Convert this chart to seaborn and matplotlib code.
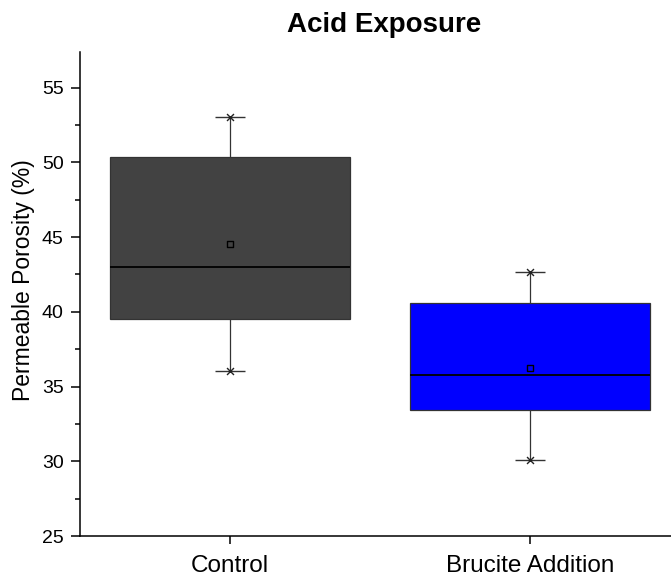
import numpy as np
import pandas as pd
import matplotlib
matplotlib.use("Agg")
import matplotlib.pyplot as plt
from matplotlib.ticker import MultipleLocator
import seaborn as sns

# Five-number summaries of permeable porosity (%) after acid exposure
groups = ["Control", "Brucite Addition"]
mins = [36.03, 30.11]
q1s = [39.51, 33.46]
medians = [43.02, 35.80]
q3s = [50.34, 40.56]
maxs = [53.02, 42.64]
means = [44.54, 36.23]
box_colors = ["#424242", "#0000FF"]
y_ticks = [25, 30, 35, 40, 45, 50, 55]

# Long table: each group's summary values, so the box spans q1..q3 and whiskers min..max
rows = []
for g, a, b, c, d, e in zip(groups, mins, q1s, medians, q3s, maxs):
    for v in (a, b, c, d, e):
        rows.append({"group": g, "value": v})
df = pd.DataFrame(rows)

sns.set_style("ticks")
plt.rcParams["font.family"] = ["Liberation Sans", "DejaVu Sans"]
plt.rcParams.update({
    "text.color": "black",
    "axes.labelcolor": "black",
    "xtick.color": "black",
    "ytick.color": "black",
    "axes.edgecolor": "black",
})

fig = plt.figure(figsize=(6.71, 5.83), dpi=100)
ax = fig.add_axes([0.1185, 0.0806, 0.8815, 0.8307])

sns.boxplot(
    data=df, x="group", y="value", hue="group", order=groups,
    palette=box_colors, saturation=1, width=0.8, whis=(0, 100),
    showcaps=False, showfliers=False, linecolor="#333333", linewidth=0.9,
    medianprops=dict(color="black", linewidth=1.3), legend=False, ax=ax,
)

pos = np.arange(len(groups))
# Whisker caps and end markers
for ends in (mins, maxs):
    sns.scatterplot(x=pos, y=ends, marker="_", s=21.6 ** 2, color="#333333",
                    linewidth=1.0, ax=ax, zorder=5)
    sns.scatterplot(x=pos, y=ends, marker="x", s=25, color="#222222",
                    linewidth=1.0, ax=ax, zorder=6)
# Mean markers
sns.scatterplot(x=pos, y=means, marker="s", s=18, facecolor="none",
                edgecolor="black", linewidth=1.0, ax=ax, zorder=6)

ax.set_xlim(-0.5017, 1.47)
ax.set_ylim(25, 57.4)
ax.set_yticks(y_ticks)
ax.yaxis.set_minor_locator(MultipleLocator(2.5))
ax.set_xticks(pos)
ax.set_xticklabels(groups)

ax.set_xlabel("")
ax.set_ylabel("Permeable Porosity (%)", fontsize=16.5, color="black")
ax.yaxis.set_label_coords(-0.075, 0.529)
ax.set_title("Acid Exposure", fontsize=20, fontweight="bold", pad=14, x=0.515,
             color="black")

for side in ("top", "right"):
    ax.spines[side].set_visible(False)
for side in ("left", "bottom"):
    ax.spines[side].set_linewidth(1.1)
    ax.spines[side].set_color("black")

ax.tick_params(axis="y", which="major", direction="out", length=6.5, width=1.1,
               pad=5, labelsize=14, color="black", labelcolor="black")
ax.tick_params(axis="y", which="minor", direction="out", length=3.5, width=1.1,
               color="black")
ax.tick_params(axis="x", which="major", direction="out", length=6, width=1.1,
               pad=8, labelsize=17.5, color="black", labelcolor="black")

fig.savefig("out.png", dpi=100)
